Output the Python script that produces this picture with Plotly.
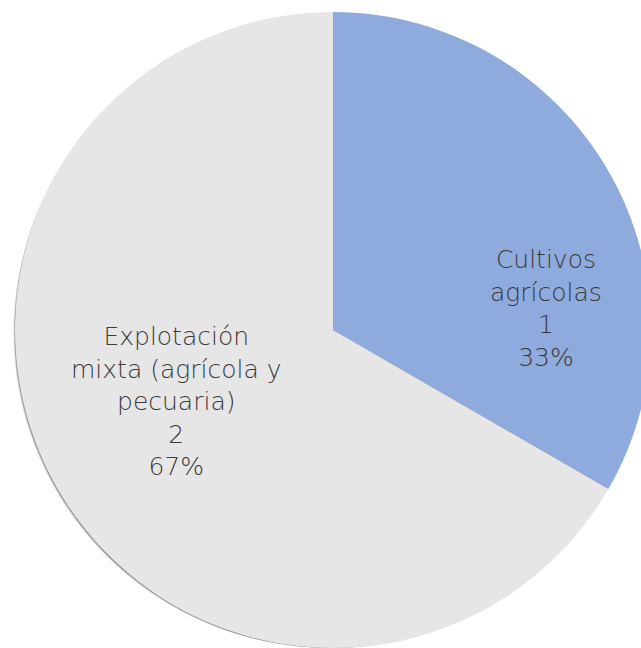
import plotly.graph_objects as go

labels = ["Cultivos<br>agrícolas", "Explotación<br>mixta (agrícola y<br>pecuaria)"]
values = [1, 2]
colors = ["#8FAADC", "#E6E6E6"]

W, H = 651, 648
total = sum(values)
texts = [f"{l}<br>{v}<br>{round(100 * v / total)}%" for l, v in zip(labels, values)]

dom_x = [15 / W, 1]
dom_y = [0, 636 / H]

fig = go.Figure()
# soft drop shadow: a few dark copies of the pie slightly offset
for dx, dy, a in [(4, 5, 0.10), (3, 4, 0.14), (2, 3, 0.18), (1, 2, 0.24)]:
    fig.add_trace(go.Pie(
        labels=labels, values=values, sort=False, direction="clockwise", rotation=0,
        marker=dict(colors=[f"rgba(0,0,0,{a})"] * len(values), line=dict(width=0)),
        textinfo="none", showlegend=False, hoverinfo="skip",
        domain=dict(x=[dom_x[0] - dx / W, dom_x[1] - dx / W],
                    y=[max(0, dom_y[0] - dy / H), dom_y[1] - dy / H]),
    ))
fig.add_trace(go.Pie(
    labels=labels,
    values=values,
    sort=False,
    direction="clockwise",
    rotation=0,
    marker=dict(colors=colors, line=dict(width=0)),
    textinfo="none",
    showlegend=False,
    hoverinfo="skip",
    domain=dict(x=dom_x, y=dom_y),
))

label_pos = [(546 / W, 1 - 308 / H), (176 / W, 1 - 401 / H)]
for t, (px, py) in zip(texts, label_pos):
    fig.add_annotation(
        x=px, y=py, xref="paper", yref="paper", text=t, showarrow=False,
        font=dict(family="DejaVu Sans", size=25, color="#3A3A3A", weight=200),
        xanchor="center", yanchor="middle", align="center",
    )

fig.update_layout(
    width=W, height=H,
    margin=dict(l=0, r=0, t=0, b=0),
    paper_bgcolor="white",
    plot_bgcolor="white",
)
fig.write_html(
    "out.html",
    config={"displayModeBar": False},
    post_script="document.body.style.margin='0';document.body.style.overflow='hidden';",
)
